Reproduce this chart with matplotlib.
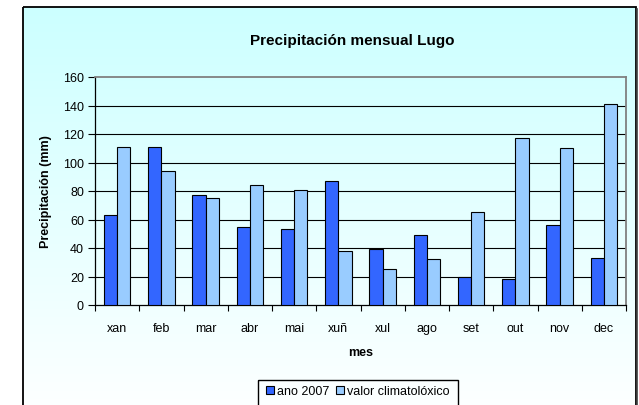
import numpy as np
import matplotlib
matplotlib.use("Agg")
import matplotlib.pyplot as plt
from matplotlib.patches import Rectangle, Patch

plt.rcParams['font.family'] = ['Liberation Sans', 'DejaVu Sans']

months = ["xan", "feb", "mar", "abr", "mai", "xuñ", "xul", "ago", "set", "out", "nov", "dec"]
ano_2007 = [63, 111, 77, 55, 53, 87, 39, 49, 20, 18, 56, 33]
climatoloxico = [111, 94, 75, 84, 81, 38, 25, 32, 65, 117, 110, 141]
yticks = [0, 20, 40, 60, 80, 100, 120, 140, 160]

W, H = 639, 406
fig = plt.figure(figsize=(W / 100, H / 100), dpi=100)
fig.patch.set_facecolor("white")

# background chart area with gradient
bg = fig.add_axes([0, 0, 1, 1], zorder=-2)
bg.set_xlim(0, W)
bg.set_ylim(H, 0)
bg.axis("off")
top = np.array([204, 255, 255]) / 255
bot = np.array([255, 255, 255]) / 255
n = 256
t = np.linspace(0, 1, n)[:, None]
grad = (top[None, :] * (1 - t) + bot[None, :] * t)[:, None, :]
bg.imshow(grad, extent=(23, 636, 425, 8), aspect="auto", interpolation="bilinear", zorder=0)
bg.add_patch(Rectangle((23, 8), 613, 420, fill=False, edgecolor="black", linewidth=1.3, zorder=2))
bg.plot([637, 637], [10, 406], color="#404040", linewidth=1.2, zorder=2)
bg.add_patch(Rectangle((258, 381), 200, 40, facecolor="none", edgecolor="black", linewidth=1.0, zorder=3))
bg.set_xlim(0, W)
bg.set_ylim(H, 0)

ax = fig.add_axes([95 / W, 1 - 306 / H, 531 / W, 228 / H])
ax.set_facecolor("none")
x = np.arange(len(months))
w = 0.3
ax.bar(x - w / 2, ano_2007, w, color="#3366FF", edgecolor="black", linewidth=0.8, zorder=3)
ax.bar(x + w / 2, climatoloxico, w, color="#99CCFF", edgecolor="black", linewidth=0.8, zorder=3)

ax.set_xlim(-0.5, len(months) - 0.5)
ax.set_ylim(0, 160)
ax.set_yticks(yticks)
ax.set_yticklabels([str(v) for v in yticks], fontsize=9)
for v in yticks[1:-1]:
    ax.axhline(v, color="black", linewidth=0.8, zorder=1)

ax.set_xticks(x)
ax.set_xticklabels(months, fontsize=9)
ax.tick_params(axis="x", which="major", length=0, pad=12)
ax.set_xticks(np.arange(-0.5, len(months)), minor=True)
ax.tick_params(axis="x", which="minor", length=4, width=0.8, direction="out")
ax.tick_params(axis="y", length=5, width=0.8, direction="out", pad=3)

for s in ["left", "bottom"]:
    ax.spines[s].set_color("black")
    ax.spines[s].set_linewidth(0.9)
for s in ["top", "right"]:
    ax.spines[s].set_color("#808080")
    ax.spines[s].set_linewidth(1.3)

ax.set_ylabel("Precipitación (mm)", fontsize=9, fontweight="bold", labelpad=8)
ax.set_xlabel("mes", fontsize=9, fontweight="bold", labelpad=9)

fig.text(352 / W, 1 - 41 / H, "Precipitación mensual Lugo", fontsize=11, fontweight="bold",
         ha="center", va="center")

handles = [Patch(facecolor="#3366FF", edgecolor="black", linewidth=0.8),
           Patch(facecolor="#99CCFF", edgecolor="black", linewidth=0.8)]
fig.legend(handles, ["ano 2007", "valor climatolóxico"], loc="center",
           bbox_to_anchor=(358 / W, 1 - 392 / H), ncol=2, frameon=False, fontsize=9,
           handlelength=0.6, handleheight=0.6, handletextpad=0.3, columnspacing=0.5)

fig.savefig("out.png", dpi=100)
